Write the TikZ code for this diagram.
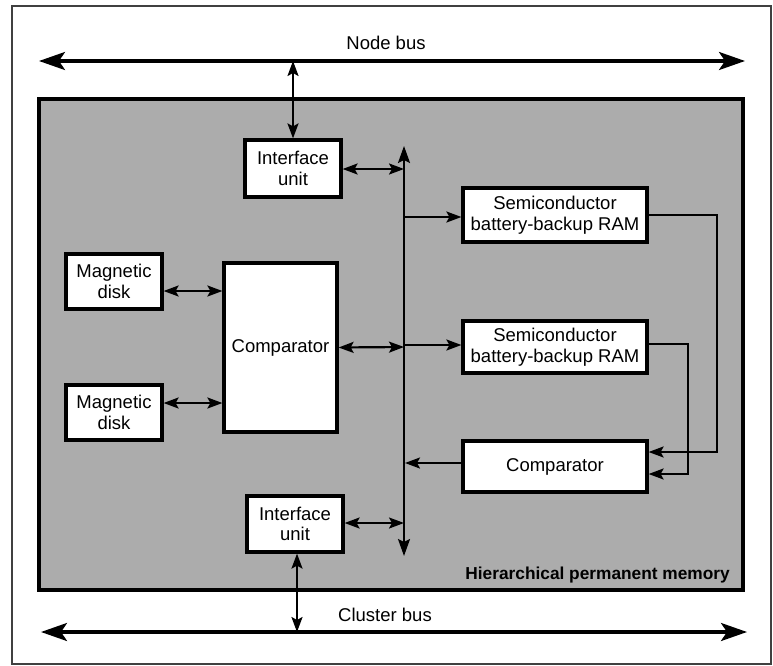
\documentclass[tikz,border=0pt]{standalone}
\usepackage{fontspec}
\setmainfont{Liberation Sans}
\usetikzlibrary{arrows.meta}
\definecolor{shade}{RGB}{172,172,172}
\tikzset{
  blk/.style={draw=black, line width=3.2pt, fill=white, align=center, inner sep=0pt,
    font=\fontsize{18.5}{20.5}\selectfont},
  busline/.style={line width=3.2pt, {Stealth[length=26pt,width=18pt,inset=6pt]}-{Stealth[length=26pt,width=18pt,inset=6pt]}},
  dbl/.style={line width=2.2pt, {Stealth[length=15pt,width=11pt,inset=3pt]}-{Stealth[length=15pt,width=11pt,inset=3pt]}},
  single/.style={line width=2.2pt, -{Stealth[length=15pt,width=11pt,inset=3pt]}},
  lbl/.style={font=\fontsize{18.5}{20.5}\selectfont, inner sep=0pt}
}
\begin{document}
\begin{tikzpicture}[x=1pt,y=-1pt]
\useasboundingbox (0,0) rectangle (773,666);
% outer frame
\draw[line width=1.2pt, black!75] (12,6) rectangle (771,664);
% shaded memory box
\draw[line width=3.2pt, fill=shade] (39,99) rectangle (743,590);
\node[anchor=south east, inner sep=0pt, font=\bfseries\fontsize{17.3}{19}\selectfont] (hpm) at (730,583) {Hierarchical permanent memory};

% buses
\coordinate (nbL) at (39,61);
\coordinate (nbR) at (745,61);
\draw[busline] (nbL) -- (nbR);
\node[lbl] (nblbl) at (386,43) {Node bus};
\coordinate (cbL) at (41,632);
\coordinate (cbR) at (747,632);
\draw[busline] (cbL) -- (cbR);
\node[lbl] (cblbl) at (385,615) {Cluster bus};

% blocks
\node[blk, minimum width=96pt, minimum height=57pt] (iu1) at (293,168.5) {Interface\\unit};
\node[blk, minimum width=96pt, minimum height=56pt] (iu2) at (295,524) {Interface\\unit};
\node[blk, minimum width=96pt, minimum height=55pt] (md1) at (114,281.5) {Magnetic\\disk};
\node[blk, minimum width=96pt, minimum height=55pt] (md2) at (114,412.5) {Magnetic\\disk};
\node[blk, minimum width=113pt, minimum height=169pt] (cmp1) at (280.5,347.5) {Comparator};
\node[blk, minimum width=184pt, minimum height=54pt] (ram1) at (555,215) {Semiconductor\\battery-backup RAM};
\node[blk, minimum width=184pt, minimum height=52pt] (ram2) at (555,347) {Semiconductor\\battery-backup RAM};
\node[blk, minimum width=184pt, minimum height=51pt] (cmp2) at (555,466.5) {Comparator};

% internal bus
\coordinate (ibT) at (404,146);
\coordinate (ibB) at (404,556);
\draw[line width=2.2pt, {Stealth[length=17pt,width=12pt,inset=3pt]}-{Stealth[length=17pt,width=12pt,inset=3pt]}] (ibT) -- (ibB);

% connections
\draw[dbl] (iu1.north) -- (iu1.north |- nbL);
\draw[dbl] (iu1.east |- 0,169) -- (404,169);
\draw[dbl] (iu2.east |- 0,523) -- (404,523);
\draw[dbl] (iu2.south -| 297,0) -- (297,632);
\draw[dbl] (md1.east |- 0,291) -- (cmp1.west |- 0,291);
\draw[dbl] (md2.east |- 0,403) -- (cmp1.west |- 0,403);
\draw[dbl] (cmp1.east) -- (404,347);
\draw[single] (404,217) -- (ram1.west |- 0,217);
\draw[single] (404,345) -- (ram2.west |- 0,345);
\draw[single] (cmp2.west |- 0,463) -- (405,463);

% feedback lines
\draw[single] (ram1.east |- 0,215) -- (717,215) -- (717,452) -- (cmp2.east |- 0,452);
\draw[single] (ram2.east |- 0,344) -- (688,344) -- (688,474) -- (cmp2.east |- 0,474);
\end{tikzpicture}
\end{document}
